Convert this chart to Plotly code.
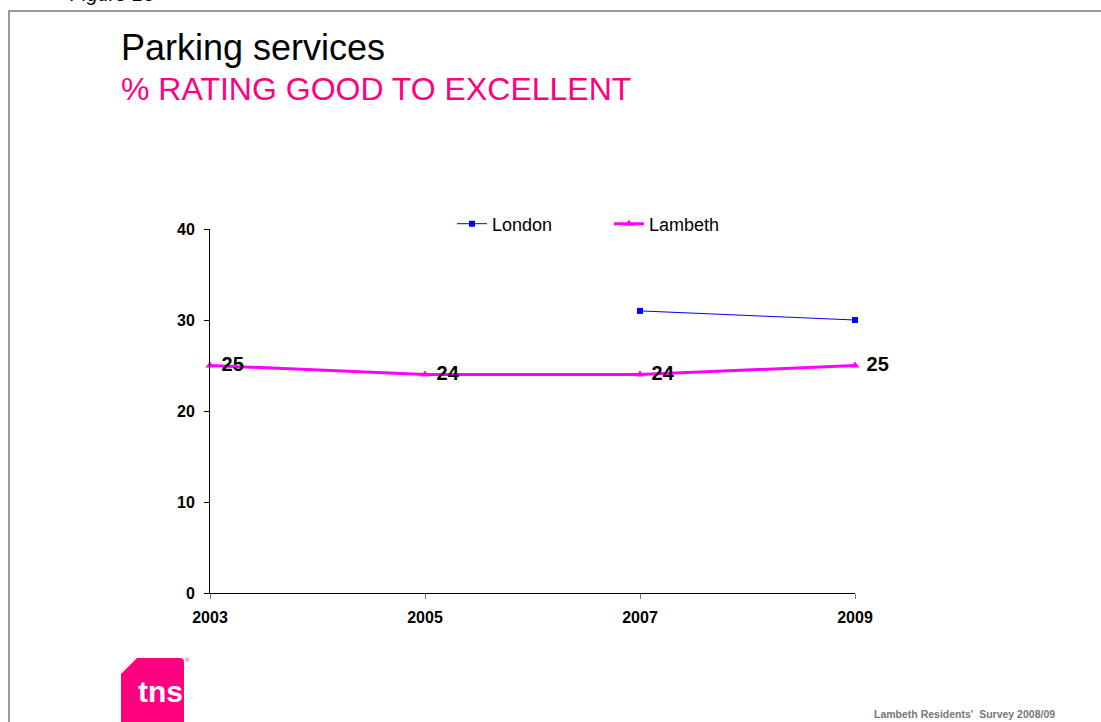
import plotly.graph_objects as go

# Survey years and series values (% rating good to excellent)
years = [2003, 2005, 2007, 2009]
london_years = [2007, 2009]
london_values = [31, 30]
lambeth_values = [25, 24, 24, 25]
y_ticks = [0, 10, 20, 30, 40]

W, H = 1101, 722
ML, MR, MT, MB = 210, 246, 229, 129
PW, PH = W - ML - MR, H - MT - MB


def px(x):
    return (x - ML) / PW


def py(y):
    return (H - MB - y) / PH


FONT = "Liberation Sans, Arial, sans-serif"
PINK = "#FF0080"

fig = go.Figure()

fig.add_trace(go.Scatter(
    x=london_years, y=london_values, name="London",
    mode="lines+markers",
    line=dict(color="#0000FF", width=1),
    marker=dict(symbol="square", size=6, color="#0000FF"),
    hoverinfo="skip",
))

fig.add_trace(go.Scatter(
    x=years, y=lambeth_values, name="Lambeth",
    mode="lines+markers+text",
    line=dict(color="#FF00FF", width=3),
    marker=dict(symbol="triangle-up", size=8, color="#FF00FF"),
    text=[" " + str(v) for v in lambeth_values],
    textposition="middle right",
    textfont=dict(family=FONT, size=20, color="black", weight="bold"),
    hoverinfo="skip",
))

shapes = [
    # outer frame of the slide panel
    dict(type="rect", xref="paper", yref="paper",
         x0=px(9), x1=px(1115), y0=py(11), y1=py(740),
         line=dict(color="#999999", width=2), fillcolor="rgba(0,0,0,0)",
         layer="below"),
    # tns logo block
    dict(type="path", xref="paper", yref="paper",
         path=("M {a},{b} L {c},{d} L {e},{d} Q {f},{d} {f},{g} "
               "L {f},{h} L {a},{h} Z").format(
             a=px(121), b=py(674), c=px(137), d=py(658),
             e=px(180), f=px(184), g=py(662), h=py(730)),
         fillcolor=PINK, line=dict(width=0)),
]

annotations = [
    dict(text="<i>Figure 13</i>", x=px(68), y=py(-6), xref="paper", yref="paper",
         xanchor="left", yanchor="middle", showarrow=False,
         font=dict(family=FONT, size=20, color="black")),
    dict(text="Parking services", x=px(119), y=py(47), xref="paper", yref="paper",
         xanchor="left", yanchor="middle", showarrow=False,
         font=dict(family=FONT, size=36, color="black")),
    dict(text="% RATING GOOD TO EXCELLENT", x=px(119), y=py(89), xref="paper",
         yref="paper", xanchor="left", yanchor="middle", showarrow=False,
         font=dict(family=FONT, size=32, color=PINK)),
    dict(text="<b>tns</b>", x=px(160), y=py(691), xref="paper", yref="paper",
         xanchor="center", yanchor="middle", showarrow=False,
         font=dict(family=FONT, size=30, color="white")),
    dict(text="®", x=px(187), y=py(660), xref="paper", yref="paper",
         xanchor="center", yanchor="middle", showarrow=False,
         font=dict(family=FONT, size=6, color=PINK)),
    dict(text="<b>Lambeth Residents'  Survey 2008/09</b>", x=px(1057), y=py(714),
         xref="paper", yref="paper", xanchor="right", yanchor="middle",
         showarrow=False, font=dict(family=FONT, size=10.5, color="#777777")),
]

fig.update_layout(
    width=W, height=H,
    margin=dict(l=ML, r=MR, t=MT, b=MB),
    paper_bgcolor="white", plot_bgcolor="white",
    font=dict(family=FONT, color="black"),
    showlegend=True,
    legend=dict(orientation="h", x=px(452), y=py(224), xanchor="left",
                yanchor="middle", font=dict(family=FONT, size=18),
                entrywidth=112, entrywidthmode="pixels",
                bgcolor="rgba(0,0,0,0)"),
    xaxis=dict(range=[2003, 2009], tickvals=years,
               ticktext=[str(y) for y in years],
               showgrid=False, zeroline=False, showline=True,
               linecolor="black", linewidth=1,
               ticks="outside", ticklen=5, tickcolor="#777777",
               ticklabelstandoff=5,
               tickfont=dict(family=FONT, size=16, weight="bold")),
    yaxis=dict(range=[0, 40], tickvals=y_ticks,
               showgrid=False, zeroline=False, showline=True,
               linecolor="black", linewidth=1,
               ticks="outside", ticklen=5, tickcolor="black",
               ticklabelstandoff=6,
               tickfont=dict(family=FONT, size=16, weight="bold")),
    shapes=shapes,
    annotations=annotations,
)

fig.update_traces(cliponaxis=False)

fig.write_html("out.html")
